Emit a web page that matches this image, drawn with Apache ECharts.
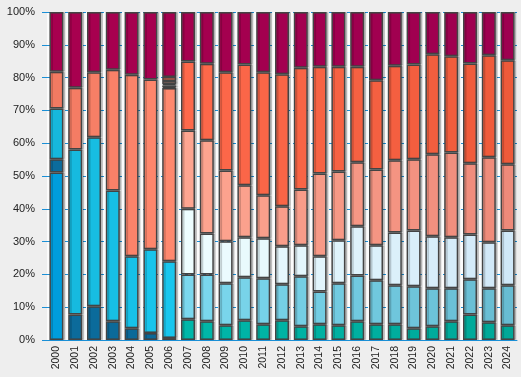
<!DOCTYPE html>
<html>
<head>
<meta charset="utf-8">
<script src="https://cdn.jsdelivr.net/npm/echarts@6/dist/echarts.min.js"></script>
<style>
html, body { margin: 0; padding: 0; background: #eeeeee; }
#chart { width: 521px; height: 377px; }
</style>
</head>
<body>
<div id="chart"></div>
<script>
var years = ['2000','2001','2002','2003','2004','2005','2006','2007','2008','2009','2010','2011','2012',
	'2013','2014','2015','2016','2017','2018','2019','2020','2021','2022','2023','2024'];

// shares in %, stacked from the bottom up
var s1 = [51.1, null, null, null, null, null, null, null, null, null, null, null, null, null, null, null, null, null, null, null, null, null, null, null, null];
var s2 = [4.0, 7.8, 10.3, 5.7, 3.6, 2.1, 0.6, null, null, null, null, null, null, null, null, null, null, null, null, null, null, null, null, null, null];
var s3 = [15.5, 50.3, 51.5, 39.9, 21.9, 25.6, 23.4, null, null, null, null, null, null, null, null, null, null, null, null, null, null, null, null, null, null];
var s4 = [11.2, 18.8, 19.8, 36.8, 55.4, 51.7, 52.8, null, null, null, null, null, null, null, null, null, null, null, null, null, null, null, null, null, null];
var s5 = [null, null, null, null, null, null, 0.3, 6.3, 5.7, 4.5, 6.0, 4.8, 6.0, 4.2, 4.8, 4.5, 5.7, 4.8, 4.8, 3.6, 4.2, 5.7, 7.8, 5.4, 4.5];
var s6 = [null, null, null, null, null, null, 0.5, 13.7, 14.3, 12.8, 13.1, 14.0, 11.0, 15.2, 10.0, 12.8, 14.0, 13.4, 11.9, 12.8, 11.6, 10.1, 10.7, 10.4, 12.2];
var s7 = [null, null, null, null, null, null, 0.4, 20.0, 12.5, 12.8, 12.2, 12.2, 11.6, 9.5, 10.7, 13.1, 15.0, 10.7, 16.1, 17.0, 15.8, 15.5, 13.7, 14.0, 16.7];
var s8 = [null, null, null, null, null, null, 1.0, 23.9, 28.4, 21.6, 15.9, 13.1, 12.2, 17.0, 25.3, 21.0, 19.5, 23.1, 22.0, 21.7, 25.0, 25.9, 21.7, 25.9, 20.2];
var s9 = [null, null, null, null, null, null, 1.2, 21.0, 23.3, 29.9, 36.8, 37.5, 40.2, 37.1, 32.5, 31.9, 29.1, 27.2, 28.8, 28.9, 30.5, 29.3, 30.4, 31.1, 31.7];
var s10 = [18.2, 23.1, 18.4, 17.6, 19.1, 20.6, 19.8, 15.1, 15.8, 18.4, 16.0, 18.4, 19.0, 17.0, 16.7, 16.7, 16.7, 20.8, 16.4, 16.0, 12.9, 13.5, 15.7, 13.2, 14.7];

var chart = echarts.init(document.getElementById('chart'));

// colour drifts a little from the first to the last year of each series
function hex(c) {
	return [parseInt(c.substr(1, 2), 16), parseInt(c.substr(3, 2), 16), parseInt(c.substr(5, 2), 16)];
}
function shade(c0, c1, from, to, i) {
	var a = hex(c0), b = hex(c1);
	var t = to > from ? (i - from) / (to - from) : 0;
	t = Math.max(0, Math.min(1, t));
	return 'rgb(' + [0, 1, 2].map(function (k) { return Math.round(a[k] + (b[k] - a[k]) * t); }).join(',') + ')';
}

var seriesList = [
	{ data: s1, c0: '#009ddc', c1: '#009ddc', from: 0, to: 0 },
	{ data: s2, c0: '#0c6c9c', c1: '#0a6898', from: 0, to: 6 },
	{ data: s3, c0: '#16b8dc', c1: '#18c6ee', from: 0, to: 6 },
	{ data: s4, c0: '#f27a62', c1: '#ff886e', from: 0, to: 6 },
	{ data: s5, c0: '#00b8aa', c1: '#00a898', from: 6, to: 24 },
	{ data: s6, c0: '#7cdaf0', c1: '#68bcd2', from: 6, to: 24 },
	{ data: s7, c0: '#f0ffff', c1: '#d0e8f8', from: 6, to: 24 },
	{ data: s8, c0: '#ffa792', c1: '#ee8a7a', from: 6, to: 24 },
	{ data: s9, c0: '#ff6a4c', c1: '#ee5a3a', from: 6, to: 24 },
	{ data: s10, c0: '#a8004f', c1: '#9e0050', from: 0, to: 24 }
];

var series = seriesList.map(function (s, n) {
	return {
		name: 'S' + (n + 1),
		type: 'bar',
		stack: 'all',
		barWidth: 14,
		data: s.data.map(function (v, i) {
			return {
				value: v,
				itemStyle: { color: shade(s.c0, s.c1, s.from, s.to, i) }
			};
		}),
		itemStyle: {
			borderColor: '#444',
			borderWidth: 1.5,
			shadowColor: 'rgba(0,0,0,0.18)',
			shadowOffsetX: 2,
			shadowBlur: 0
		}
	};
});

var option = {
	backgroundColor: '#eeeeee',
	animation: false,
	grid: {
		left: 47, right: 4, top: 12, bottom: 37,
		show: true, backgroundColor: '#fbfbfb', borderWidth: 0
	},
	xAxis: {
		type: 'category',
		data: years,
		axisLine: { lineStyle: { color: '#1a8fd6', width: 1 } },
		axisTick: { length: 5, lineStyle: { color: '#1a8fd6' } },
		axisLabel: {
			rotate: 90, color: '#222', fontSize: 10.5, margin: 6,
			fontFamily: 'Liberation Sans, Arial, sans-serif'
		}
	},
	yAxis: {
		type: 'value',
		min: 0, max: 100, interval: 10,
		axisLine: { show: false },
		axisTick: { show: true, length: 5, lineStyle: { color: '#1a8fd6' } },
		axisLabel: {
			formatter: '{value}%', color: '#222', fontSize: 11, margin: 12,
			fontFamily: 'Liberation Sans, Arial, sans-serif'
		},
		splitLine: { lineStyle: { color: '#1a8fd6', type: [3, 3] } }
	},
	series: series
};
chart.setOption(option);
</script>
</body>
</html>
